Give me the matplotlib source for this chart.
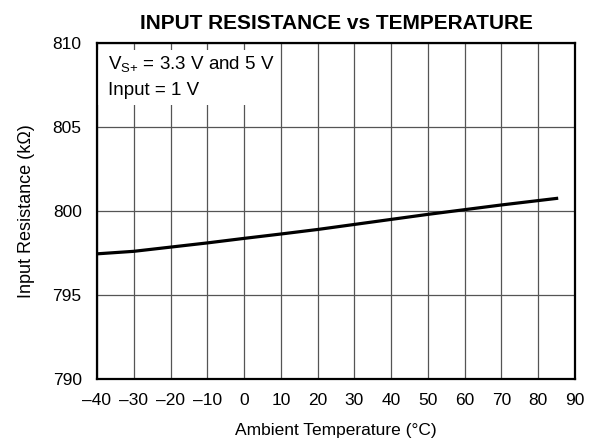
import matplotlib.pyplot as plt
from matplotlib.patches import Rectangle

temps = [-40, -30, -20, -10, 0, 10, 20, 30, 40, 50, 60, 70, 80, 85]
resistance = [797.45, 797.6, 797.85, 798.1, 798.37, 798.63, 798.9, 799.2, 799.5, 799.8, 800.08, 800.36, 800.62, 800.75]

xticks = list(range(-40, 91, 10))
yticks = [790, 795, 800, 805, 810]

plt.rcParams['font.family'] = ['Liberation Sans', 'DejaVu Sans']

fig = plt.figure(figsize=(6.07, 4.43), dpi=100)
ax = fig.add_axes([97 / 607, 1 - 379 / 443, 478 / 607, 336 / 443])

ax.plot(temps, resistance, color='black', lw=2.3, zorder=3)
ax.set_xlim(-40, 90)
ax.set_ylim(790, 810)
ax.set_xticks(xticks)
ax.set_yticks(yticks)
ax.set_xticklabels([str(t).replace('-', '\u2013') for t in xticks])
ax.grid(True, color='#555555', lw=0.9)
ax.tick_params(direction='in', length=0, labelsize=12.5)
ax.tick_params(axis='x', pad=10)
ax.tick_params(axis='y', pad=11)
for s in ax.spines.values():
    s.set_linewidth(1.6)
    s.set_zorder(5)

# white panel behind the conditions note (hides the grid there)
ax.add_patch(Rectangle((0, 0.815), 0.378, 0.164, transform=ax.transAxes,
                       facecolor='white', edgecolor='none', zorder=2))
ax.text(-37, 808.39, r'V$_{\mathregular{S{+}}}$ = 3.3 V and 5 V', fontsize=13.5,
        va='baseline', ha='left', zorder=4)
ax.text(-37, 806.9, 'Input = 1 V', fontsize=13.5, va='baseline', ha='left', zorder=4)

ax.set_title('INPUT RESISTANCE vs TEMPERATURE', fontsize=15, fontweight='bold', pad=10)
ax.set_xlabel('Ambient Temperature (°C)', fontsize=12.5, labelpad=11)
ax.set_ylabel('Input Resistance (kΩ)', fontsize=13, labelpad=13)

fig.savefig('out.png', dpi=100)
